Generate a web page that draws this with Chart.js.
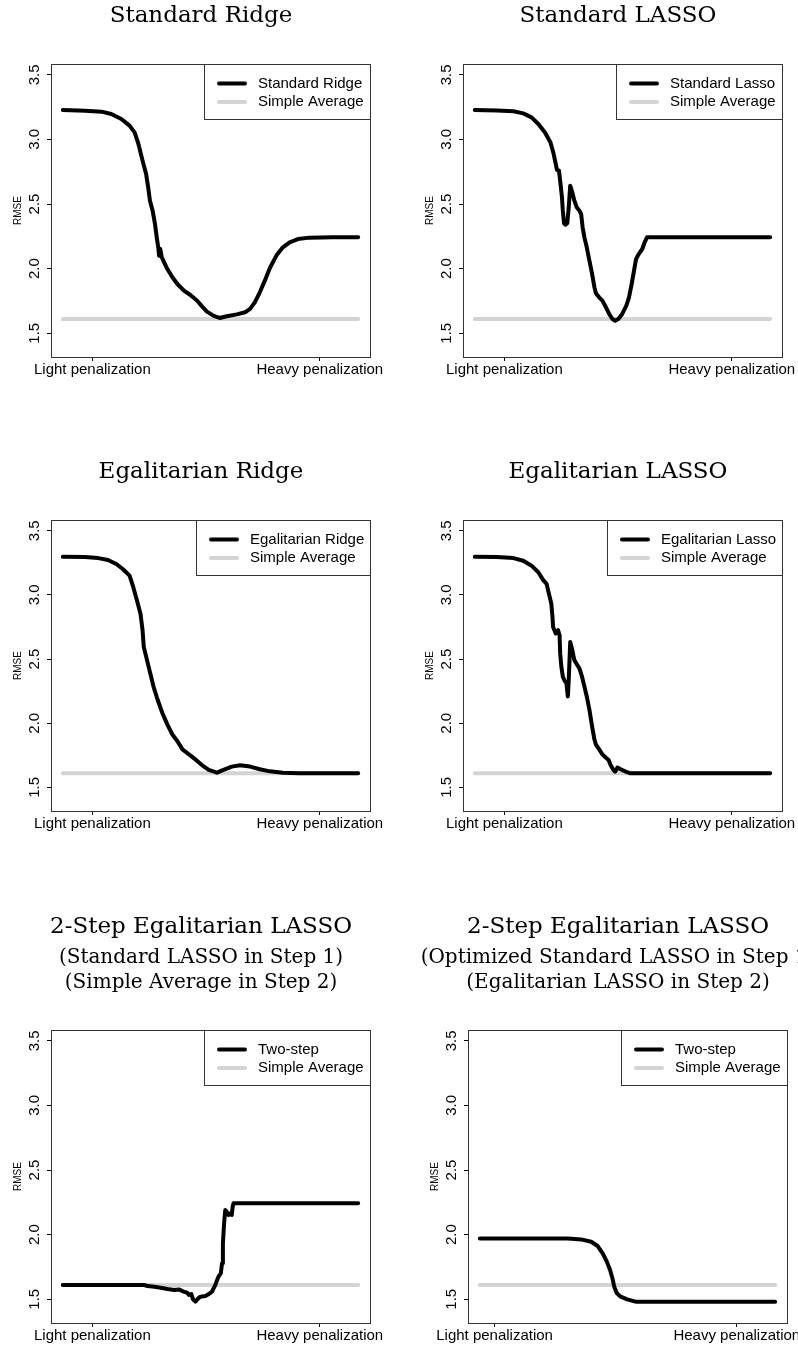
<!DOCTYPE html>
<html>
<head>
<meta charset="utf-8">
<script src="https://cdn.jsdelivr.net/npm/chart.js@4.4.1/dist/chart.umd.min.js"></script>
<style>
  html, body { margin: 0; padding: 0; background: #fff; width: 798px; height: 1347px; overflow: hidden; }
  canvas { position: absolute; }
</style>
</head>
<body>
<canvas id="c1"></canvas>
<canvas id="c2"></canvas>
<canvas id="c3"></canvas>
<canvas id="c4"></canvas>
<canvas id="c5"></canvas>
<canvas id="c6"></canvas>
<script>
// penalization index runs 0..100, values are RMSE
var stdRidgeX = [0, 7.5, 13.1, 16.4, 19.8, 22.6, 24.3, 25.6, 27.0, 28.2, 28.9, 29.5, 30.4, 31.2, 31.8, 32.3, 32.6, 33.0, 33.5, 34.3, 35.4, 37.1, 38.8, 41.0, 43.2, 45.5, 47.2, 48.8, 51.1, 53.1, 55.5, 58.9, 61.7, 63.4, 65.0, 66.7, 68.4, 70.1, 72.3, 74.5, 76.8, 79.6, 83.5, 91.3, 100];
var stdRidgeY = [3.228, 3.223, 3.215, 3.197, 3.158, 3.107, 3.055, 2.965, 2.836, 2.733, 2.629, 2.526, 2.449, 2.346, 2.242, 2.165, 2.100, 2.152, 2.088, 2.049, 1.997, 1.933, 1.881, 1.830, 1.796, 1.752, 1.706, 1.667, 1.634, 1.618, 1.631, 1.646, 1.662, 1.688, 1.739, 1.817, 1.907, 2.005, 2.101, 2.165, 2.204, 2.229, 2.240, 2.242, 2.242];

var stdLassoX = [0, 7.5, 13.1, 16.4, 19.2, 21.5, 23.7, 25.6, 26.7, 27.4, 27.8, 28.5, 28.9, 29.5, 29.8, 30.2, 30.7, 31.3, 31.8, 32.3, 33.0, 33.7, 34.5, 35.4, 36.0, 36.5, 37.1, 37.9, 38.8, 39.7, 40.5, 41.0, 42.1, 43.2, 44.4, 45.5, 46.6, 47.5, 48.6, 49.9, 51.3, 52.2, 53.1, 53.9, 54.6, 55.5, 56.7, 57.5, 58.3, 100];
var stdLassoY = [3.228, 3.225, 3.218, 3.202, 3.171, 3.120, 3.055, 2.978, 2.887, 2.810, 2.764, 2.758, 2.681, 2.552, 2.449, 2.351, 2.340, 2.351, 2.475, 2.642, 2.591, 2.526, 2.475, 2.449, 2.423, 2.320, 2.242, 2.165, 2.062, 1.959, 1.855, 1.809, 1.778, 1.752, 1.701, 1.649, 1.610, 1.597, 1.610, 1.649, 1.713, 1.778, 1.881, 1.984, 2.075, 2.113, 2.152, 2.204, 2.242, 2.242];

var egRidgeX = [0, 7.5, 12.0, 15.3, 18.1, 20.3, 22.6, 23.7, 25.1, 26.3, 27.0, 27.4, 28.5, 29.6, 30.7, 32.1, 33.7, 35.4, 37.1, 38.8, 40.5, 42.7, 44.9, 47.2, 49.4, 52.2, 54.4, 57.2, 60.0, 63.4, 66.7, 70.1, 74.5, 80.1, 100];
var egRidgeY = [3.297, 3.295, 3.287, 3.272, 3.241, 3.202, 3.150, 3.073, 2.957, 2.854, 2.725, 2.596, 2.492, 2.389, 2.286, 2.183, 2.080, 1.989, 1.912, 1.860, 1.796, 1.757, 1.718, 1.672, 1.636, 1.615, 1.636, 1.662, 1.672, 1.662, 1.641, 1.625, 1.615, 1.610, 1.610];

var egLassoX = [0, 7.5, 13.1, 16.4, 19.2, 21.5, 23.1, 24.3, 25.1, 25.9, 26.3, 26.5, 27.4, 28.2, 28.7, 28.9, 29.3, 29.8, 30.4, 31.0, 31.5, 31.8, 32.3, 33.0, 33.7, 34.5, 35.4, 36.3, 37.1, 37.9, 38.8, 39.7, 40.5, 41.0, 42.1, 43.2, 44.4, 45.3, 46.0, 46.8, 47.5, 48.3, 49.4, 51.1, 52.7, 100];
var egLassoY = [3.297, 3.295, 3.287, 3.266, 3.228, 3.177, 3.117, 3.086, 3.008, 2.931, 2.828, 2.750, 2.699, 2.725, 2.686, 2.544, 2.441, 2.363, 2.332, 2.312, 2.209, 2.338, 2.634, 2.570, 2.492, 2.461, 2.428, 2.363, 2.286, 2.209, 2.105, 1.976, 1.873, 1.834, 1.796, 1.757, 1.731, 1.713, 1.672, 1.641, 1.623, 1.654, 1.641, 1.623, 1.610, 1.610];

var twoStepAX = [0, 27.6, 28.7, 31.0, 33.2, 35.4, 37.7, 39.3, 41.0, 42.1, 42.7, 43.5, 44.1, 44.9, 45.5, 46.6, 48.3, 49.4, 50.5, 51.6, 52.7, 53.5, 53.9, 54.2, 54.6, 55.0, 55.5, 56.1, 56.7, 57.2, 57.5, 57.8, 100];
var twoStepAY = [1.610, 1.610, 1.602, 1.597, 1.589, 1.579, 1.571, 1.576, 1.558, 1.551, 1.533, 1.540, 1.499, 1.481, 1.499, 1.520, 1.525, 1.540, 1.558, 1.610, 1.675, 1.700, 1.778, 1.932, 2.087, 2.190, 2.178, 2.152, 2.165, 2.152, 2.216, 2.242, 2.242];

var twoStepBX = [0, 29.8, 34.3, 37.7, 39.9, 41.6, 43.0, 44.1, 44.9, 45.5, 46.4, 47.7, 49.9, 52.7, 100];
var twoStepBY = [1.971, 1.971, 1.963, 1.945, 1.912, 1.855, 1.791, 1.726, 1.662, 1.597, 1.546, 1.520, 1.499, 1.481, 1.481];

var avgX = [0, 100];
var avgY = [1.61, 1.61];

var yTicks = [1.5, 2.0, 2.5, 3.0, 3.5];
var xTickLabels = ["Light penalization", "Heavy penalization"];
var xTicksMain = [10, 87];
var xTicksLast = [5, 87];

Chart.defaults.font.family = '"Liberation Sans", Arial, sans-serif';
Chart.defaults.color = "#000";

var TITLE_SIZE = 23;
var SUB_SIZE = 20;

var panels = [
  { id: "c1", left: 0, top: 0, width: 402, height: 400, boxTop: 64, boxBottom: 357, rW: 32,
    title: "Standard Ridge", label: "Standard Ridge", xs: stdRidgeX, ys: stdRidgeY, ticks: xTicksMain },
  { id: "c2", left: 412, top: 0, width: 412, height: 400, boxTop: 64, boxBottom: 357, rW: 42,
    title: "Standard LASSO", label: "Standard Lasso", xs: stdLassoX, ys: stdLassoY, ticks: xTicksMain },
  { id: "c3", left: 0, top: 456, width: 402, height: 400, boxTop: 64, boxBottom: 355, rW: 32,
    title: "Egalitarian Ridge", label: "Egalitarian Ridge", xs: egRidgeX, ys: egRidgeY, ticks: xTicksMain },
  { id: "c4", left: 412, top: 456, width: 412, height: 400, boxTop: 64, boxBottom: 355, rW: 42,
    title: "Egalitarian LASSO", label: "Egalitarian Lasso", xs: egLassoX, ys: egLassoY, ticks: xTicksMain },
  { id: "c5", left: 0, top: 900, width: 402, height: 447, boxTop: 130, boxBottom: 423, rW: 32,
    title: "2-Step Egalitarian LASSO", sub: ["(Standard LASSO in Step 1)", "(Simple Average in Step 2)"],
    label: "Two-step", xs: twoStepAX, ys: twoStepAY, ticks: xTicksMain },
  { id: "c6", left: 417, top: 900, width: 402, height: 447, boxTop: 130, boxBottom: 423, rW: 32,
    title: "2-Step Egalitarian LASSO", sub: ["(Optimized Standard LASSO in Step 1)", "(Egalitarian LASSO in Step 2)"],
    label: "Two-step", xs: twoStepBX, ys: twoStepBY, ticks: xTicksLast }
];

// legend box in the top right corner of the plot, R style
var boxLegend = {
  id: "boxLegend",
  afterDatasetsDraw: function (chart) {
    var a = chart.chartArea, ctx = chart.ctx, sets = chart.data.datasets;
    ctx.save();
    ctx.font = '15px "Liberation Sans", Arial, sans-serif';
    var tw = 0;
    sets.forEach(function (d) { tw = Math.max(tw, ctx.measureText(d.label).width); });
    var w = Math.round(tw + 60), h = 55;
    var x0 = Math.round(a.right) - w, y0 = Math.round(a.top);
    ctx.fillStyle = "#fff";
    ctx.fillRect(x0, y0, w, h);
    ctx.strokeStyle = "#333";
    ctx.lineWidth = 1;
    ctx.strokeRect(x0 + 0.5, y0 + 0.5, w, h);
    sets.forEach(function (d, i) {
      var y = y0 + 19.5 + i * 18.5;
      ctx.strokeStyle = d.borderColor;
      ctx.lineWidth = 4;
      ctx.lineCap = "round";
      ctx.beginPath();
      ctx.moveTo(x0 + 15, y);
      ctx.lineTo(x0 + 41, y);
      ctx.stroke();
      ctx.fillStyle = "#000";
      ctx.textBaseline = "middle";
      ctx.fillText(d.label, x0 + 54, y);
    });
    ctx.restore();
  }
};

// frame around the plotting region
var plotFrame = {
  id: "plotFrame",
  afterDraw: function (chart) {
    var a = chart.chartArea, ctx = chart.ctx;
    ctx.save();
    ctx.strokeStyle = "#333";
    ctx.lineWidth = 1;
    ctx.strokeRect(Math.round(a.left) + 0.5, Math.round(a.top) + 0.5,
      Math.round(a.right - a.left), Math.round(a.bottom - a.top));
    ctx.restore();
  }
};

panels.forEach(function (p) {
  var canvas = document.getElementById(p.id);
  canvas.width = p.width;
  canvas.height = p.height;
  canvas.style.left = p.left + "px";
  canvas.style.top = p.top + "px";

  var titleLH = TITLE_SIZE * 1.2;
  var titlePad, subOpts;
  if (p.sub) {
    var subLH = 25;
    var titleTop = 27.5 - titleLH / 2;
    var subTop = 58 - subLH / 2 - (titleTop + titleLH);
    titlePad = { top: titleTop, bottom: 0 };
    subOpts = {
      display: true, text: p.sub, color: "#000",
      font: { family: '"DejaVu Serif", serif', size: SUB_SIZE, weight: "normal", lineHeight: subLH / SUB_SIZE },
      padding: { top: subTop, bottom: p.boxTop - (titleTop + titleLH) - subTop - 2 * subLH }
    };
  } else {
    var tTop = 16.5 - titleLH / 2;
    titlePad = { top: tTop, bottom: p.boxTop - tTop - titleLH };
    subOpts = { display: false };
  }

  new Chart(canvas.getContext("2d"), {
    type: "line",
    data: {
      datasets: [
        {
          label: p.label,
          data: p.xs.map(function (x, i) { return { x: x, y: p.ys[i] }; }),
          borderColor: "#000",
          borderWidth: 4,
          pointRadius: 0,
          tension: 0,
          borderCapStyle: "round",
          borderJoinStyle: "round"
        },
        {
          label: "Simple Average",
          data: avgX.map(function (x, i) { return { x: x, y: avgY[i] }; }),
          borderColor: "#d3d3d3",
          borderWidth: 4,
          pointRadius: 0,
          borderCapStyle: "round"
        }
      ]
    },
    options: {
      responsive: false,
      animation: false,
      layout: { padding: 0 },
      scales: {
        x: {
          type: "linear", min: -4, max: 104, bounds: "data",
          afterBuildTicks: function (s) { s.ticks = p.ticks.map(function (v) { return { value: v }; }); },
          afterFit: function (s) { s.height = p.height - p.boxBottom; },
          grid: { drawOnChartArea: false, drawTicks: true, tickLength: 4, tickColor: "#000" },
          border: { display: false },
          ticks: {
            autoSkip: false, maxRotation: 0, minRotation: 0, padding: 0,
            font: { size: 15 }, color: "#000",
            callback: function (v, i) { return xTickLabels[i]; }
          }
        },
        y: {
          type: "linear", position: "left", min: 1.316, max: 3.584, bounds: "data",
          afterBuildTicks: function (s) { s.ticks = yTicks.map(function (v) { return { value: v }; }); },
          afterFit: function (s) { s.width = 51; },
          grid: { drawOnChartArea: false, drawTicks: true, tickLength: 4, tickColor: "#000" },
          border: { display: false },
          ticks: {
            minRotation: 90, maxRotation: 90, crossAlign: "center", padding: 2,
            font: { size: 15 }, color: "#000",
            callback: function (v) { return v.toFixed(1); }
          },
          title: { display: true, text: "RMSE", color: "#000", font: { size: 10 }, padding: { top: 12, bottom: 0 } }
        },
        yRight: {
          axis: "y", type: "linear", position: "right", display: true,
          afterFit: function (s) { s.width = p.rW; },
          grid: { display: false },
          border: { display: false },
          ticks: { display: false }
        }
      },
      plugins: {
        legend: { display: false },
        tooltip: { enabled: false },
        title: {
          display: true, text: p.title, color: "#000",
          font: { family: '"DejaVu Serif", serif', size: TITLE_SIZE, weight: "normal", lineHeight: 1.2 },
          padding: titlePad
        },
        subtitle: subOpts
      }
    },
    plugins: [boxLegend, plotFrame]
  });
});
</script>
</body>
</html>
